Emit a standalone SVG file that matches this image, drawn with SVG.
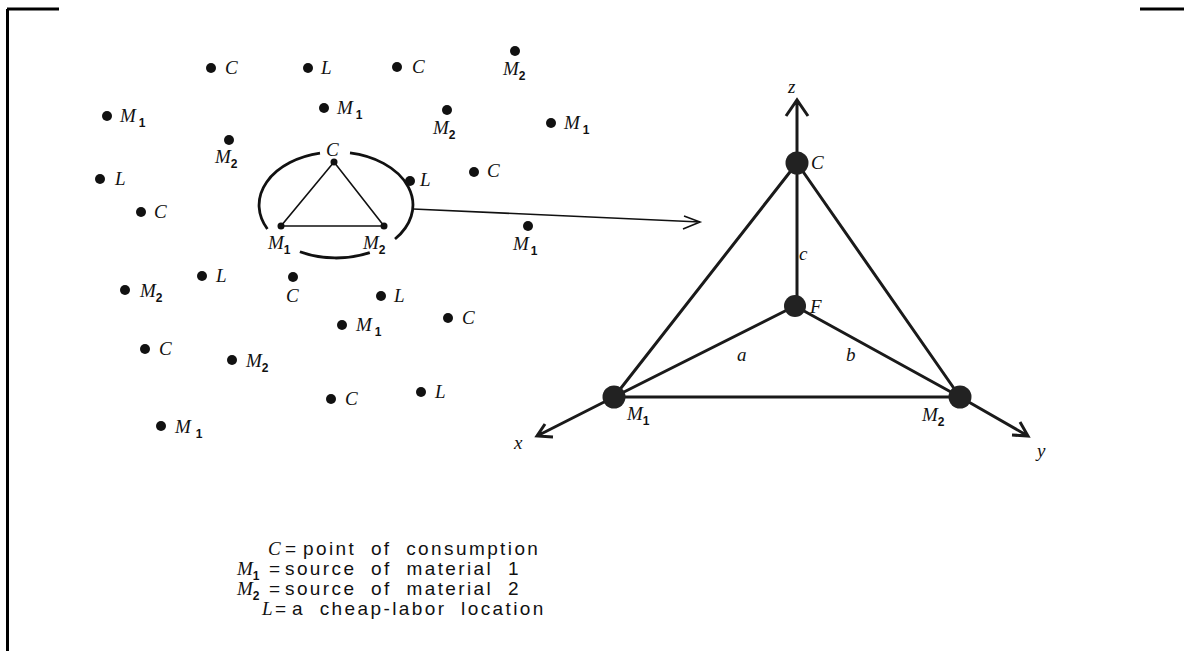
<svg xmlns="http://www.w3.org/2000/svg" width="1184" height="651" viewBox="0 0 1184 651">
<style>
.lbl{font-family:"Liberation Serif",serif;font-style:italic;font-size:19px;fill:#111}
.sub{font-family:"Liberation Sans",sans-serif;font-style:normal;font-weight:bold;font-size:12px}
.leg{font-family:"Liberation Sans",sans-serif;font-size:19px;fill:#111;letter-spacing:2.4px;word-spacing:7px}
.eq{font-family:"Liberation Sans",sans-serif;font-size:19px;fill:#111}
.dot{fill:#111}
.bd{stroke:#000;stroke-width:3;fill:none}
.thin{stroke:#111;stroke-width:1.6;fill:none}
.thick{stroke:#1a1a1a;stroke-width:3;fill:none}
.big{fill:#222}
</style>
<rect width="1184" height="651" fill="#fff"/>
<g id="border">
<path class="bd" d="M7.5 9 V651 M7 9 H59 M1140 9 H1184"/>
</g>
<g id="scatter">
<g id="p1"><circle class="dot" cx="211" cy="68" r="5"/><text class="lbl" x="225" y="74">C</text></g>
<g id="p2"><circle class="dot" cx="308" cy="68" r="5"/><text class="lbl" x="321" y="74">L</text></g>
<g id="p3"><circle class="dot" cx="397" cy="67" r="5"/><text class="lbl" x="412" y="73">C</text></g>
<g id="p4"><circle class="dot" cx="515" cy="51" r="5"/><text class="lbl" x="503" y="75">M<tspan class="sub" dy="5">2</tspan></text></g>
<g id="p5"><circle class="dot" cx="107" cy="116" r="5"/><text class="lbl" x="120" y="122">M<tspan class="sub" dx="3" dy="5">1</tspan></text></g>
<g id="p6"><circle class="dot" cx="324" cy="108" r="5"/><text class="lbl" x="337" y="114">M<tspan class="sub" dx="3" dy="5">1</tspan></text></g>
<g id="p7"><circle class="dot" cx="447" cy="110" r="5"/><text class="lbl" x="433" y="134">M<tspan class="sub" dy="5">2</tspan></text></g>
<g id="p8"><circle class="dot" cx="551" cy="123" r="5"/><text class="lbl" x="564" y="129">M<tspan class="sub" dx="3" dy="5">1</tspan></text></g>
<g id="p9"><circle class="dot" cx="229" cy="140" r="5"/><text class="lbl" x="215" y="163">M<tspan class="sub" dy="5">2</tspan></text></g>
<g id="p10"><circle class="dot" cx="100" cy="179" r="5"/><text class="lbl" x="115" y="185">L</text></g>
<g id="p11"><circle class="dot" cx="474" cy="172" r="5"/><text class="lbl" x="487" y="177">C</text></g>
<g id="p12"><circle class="dot" cx="141" cy="212" r="5"/><text class="lbl" x="154" y="218">C</text></g>
<g id="p13"><circle class="dot" cx="528" cy="226" r="5"/><text class="lbl" x="513" y="250">M<tspan class="sub" dx="2" dy="5">1</tspan></text></g>
<g id="p14"><circle class="dot" cx="202" cy="276" r="5"/><text class="lbl" x="216" y="282">L</text></g>
<g id="p15"><circle class="dot" cx="125" cy="290" r="5"/><text class="lbl" x="140" y="297">M<tspan class="sub" dy="5">2</tspan></text></g>
<g id="p16"><circle class="dot" cx="293" cy="277" r="5"/><text class="lbl" x="286" y="302">C</text></g>
<g id="p17"><circle class="dot" cx="381" cy="296" r="5"/><text class="lbl" x="394" y="302">L</text></g>
<g id="p18"><circle class="dot" cx="342" cy="325" r="5"/><text class="lbl" x="356" y="331">M<tspan class="sub" dx="3" dy="5">1</tspan></text></g>
<g id="p19"><circle class="dot" cx="448" cy="318" r="5"/><text class="lbl" x="462" y="324">C</text></g>
<g id="p20"><circle class="dot" cx="145" cy="349" r="5"/><text class="lbl" x="159" y="355">C</text></g>
<g id="p21"><circle class="dot" cx="232" cy="360" r="5"/><text class="lbl" x="246" y="367">M<tspan class="sub" dy="5">2</tspan></text></g>
<g id="p22"><circle class="dot" cx="331" cy="399" r="5"/><text class="lbl" x="345" y="405">C</text></g>
<g id="p23"><circle class="dot" cx="421" cy="392" r="5"/><text class="lbl" x="435" y="398">L</text></g>
<g id="p24"><circle class="dot" cx="161" cy="426" r="5"/><text class="lbl" x="175" y="433">M<tspan class="sub" dx="5" dy="5">1</tspan></text></g>
</g>
<g id="circle-group">
<path stroke="#111" stroke-width="2.8" fill="none" d="M350 152.9 A77 53 0 0 1 395 239 M369.8 252.6 A77 53 0 0 1 299.9 251.8 M267.4 229 A77 53 0 0 1 320 153.2"/>
<polygon class="thin" points="334,162 281,226 384,226"/>
<circle class="dot" cx="334" cy="162" r="3.5"/>
<circle class="dot" cx="281" cy="226" r="3.5"/>
<circle class="dot" cx="384" cy="226" r="3.5"/>
<circle class="dot" cx="410" cy="181" r="5"/>
<text class="lbl" x="326" y="156">C</text>
<text class="lbl" x="268" y="249">M<tspan class="sub" dy="5">1</tspan></text>
<text class="lbl" x="363" y="249">M<tspan class="sub" dy="5">2</tspan></text>
<text class="lbl" x="420" y="186">L</text>
</g>
<g id="connectors">
<path class="thin" d="M413 209 L700 222 M684 216 L700 222 L683 229"/>
<path class="thick" d="M797 102 V306 M786 116 L797 100 L808 116"/>
<path class="thick" d="M797 163 L614 397 M797 163 L960 397 M795 306 L614 397 M795 306 L960 397 M614 397 H960"/>
<path class="thick" d="M614 397 L537 436 M545 424 L537 436 L553 437"/>
<path class="thick" d="M960 397 L1028 436 M1012 435 L1028 436 L1020 422"/>
</g>
<g id="node-C"><circle class="big" cx="797" cy="163" r="11.5"/><text class="lbl" x="811" y="169" font-size="16">C</text></g>
<g id="node-F"><circle class="big" cx="795" cy="306" r="11"/><text class="lbl" x="810" y="313" font-size="15">F</text></g>
<g id="node-M1"><circle class="big" cx="614" cy="397" r="11.5"/><text class="lbl" x="627" y="420">M<tspan class="sub" dy="5">1</tspan></text></g>
<g id="node-M2"><circle class="big" cx="960" cy="397" r="11.5"/><text class="lbl" x="922" y="421">M<tspan class="sub" dy="5">2</tspan></text></g>
<g id="axis-labels">
<text class="lbl" x="788" y="93" font-size="16">z</text>
<text class="lbl" x="514" y="449" font-size="16">x</text>
<text class="lbl" x="1037" y="457" font-size="16">y</text>
<text class="lbl" x="799" y="260" font-size="16">c</text>
<text class="lbl" x="737" y="361" font-size="16">a</text>
<text class="lbl" x="846" y="361" font-size="16">b</text>
</g>
<g id="legend">
<text class="lbl" x="268" y="555">C</text><text class="eq" x="285" y="555">=</text><text class="leg" x="303" y="555">point of consumption</text>
<text class="lbl" x="237" y="575">M<tspan class="sub" dy="5">1</tspan></text><text class="eq" x="269" y="575">=</text><text class="leg" x="285" y="575">source of material 1</text>
<text class="lbl" x="237" y="595">M<tspan class="sub" dy="5">2</tspan></text><text class="eq" x="269" y="595">=</text><text class="leg" x="285" y="595">source of material 2</text>
<text class="lbl" x="262" y="615">L</text><text class="eq" x="275" y="615">=</text><text class="leg" x="292" y="615">a cheap-labor location</text>
</g>
</svg>
